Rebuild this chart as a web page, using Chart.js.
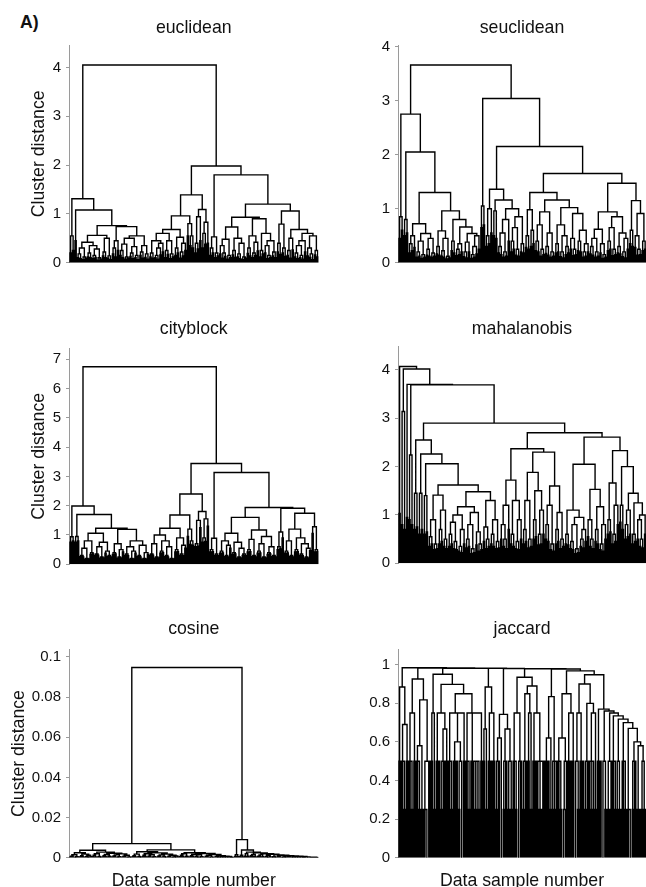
<!DOCTYPE html>
<html>
<head>
<meta charset="utf-8">
<script src="https://cdn.jsdelivr.net/npm/chart.js@4.4.1/dist/chart.umd.min.js"></script>
<style>
  html, body { margin: 0; padding: 0; background: #fff; overflow: hidden; width: 646px; height: 887px; }
  canvas { position: absolute; }
  #panelLabel { position: absolute; left: 20px; top: 14px; font: bold 17.7px "Liberation Sans", Arial, sans-serif; line-height: 1; color: #111; }
</style>
</head>
<body>
<div id="panelLabel">A)</div>
<canvas id="c0" width="330" height="283" style="left:0px;top:0px;width:330px;height:283px"></canvas>
<canvas id="c1" width="316" height="283" style="left:330px;top:0px;width:316px;height:283px"></canvas>
<canvas id="c2" width="330" height="283" style="left:0px;top:300px;width:330px;height:283px"></canvas>
<canvas id="c3" width="316" height="283" style="left:330px;top:300px;width:316px;height:283px"></canvas>
<canvas id="c4" width="330" height="292" style="left:0px;top:600px;width:330px;height:292px"></canvas>
<canvas id="c5" width="316" height="292" style="left:330px;top:600px;width:316px;height:292px"></canvas>
<script>
// ---- Data ----
// *Gaps: merge height between neighbouring sample pairs (ordered as in the dendrogram).
// *Pairs: merge height of the two samples inside each pair.
const euclideanGaps = [
  0.55,1.31,1.08,0.18,0.30,0.12,0.42,0.20,0.35,0.15,
  0.28,0.10,0.56,0.22,0.50,0.14,0.76,0.30,0.45,0.74,
  0.25,0.38,0.12,0.50,0.20,0.33,0.15,0.55,0.22,0.35,
  0.18,4.05,0.20,0.45,0.15,0.30,0.40,0.60,0.25,0.45,
  0.18,0.68,0.30,0.52,0.22,0.40,0.96,0.80,0.55,1.39,
  0.40,0.94,1.09,0.60,0.83,1.98,0.30,0.53,0.20,1.80,
  0.35,0.20,0.48,0.15,0.73,0.25,0.50,0.18,0.40,0.12,
  0.93,0.30,0.55,0.20,0.42,0.90,0.25,0.60,0.35,0.15,
  0.45,0.22,1.20,0.40,0.79,0.30,1.06,0.25,0.50,0.68,
  0.20,0.35,0.15,0.45,0.60,0.30,0.18,0.55,0.25
];
const euclideanPairs = [
  0.20,0.25,0.45,0.10,0.08,0.06,0.09,0.12,0.10,0.08,
  0.11,0.05,0.07,0.14,0.10,0.09,0.06,0.18,0.12,0.25,
  0.15,0.10,0.07,0.09,0.13,0.08,0.10,0.06,0.15,0.09,
  0.11,0.07,0.12,0.09,0.10,0.07,0.16,0.22,0.10,0.17,
  0.08,0.12,0.15,0.20,0.09,0.14,0.25,0.55,0.35,0.30,
  0.20,0.28,0.45,0.30,0.38,0.40,0.15,0.20,0.10,0.14,
  0.18,0.09,0.13,0.07,0.10,0.16,0.11,0.12,0.08,0.06,
  0.09,0.19,0.14,0.10,0.15,0.24,0.12,0.18,0.20,0.08,
  0.11,0.14,0.10,0.22,0.17,0.20,0.13,0.15,0.09,0.26,
  0.12,0.08,0.10,0.07,0.22,0.14,0.11,0.06,0.16,0.12
];
const seuclideanGaps = [
  0.85,2.75,0.80,2.05,0.35,0.50,0.72,0.20,0.40,0.15,
  0.54,0.25,0.45,0.18,1.30,0.30,0.59,0.22,0.45,0.12,
  0.96,0.40,0.80,0.25,0.35,0.66,0.20,0.38,0.54,0.15,
  0.30,0.50,3.66,1.05,3.04,0.50,1.00,1.36,0.96,1.16,
  0.30,0.55,0.20,0.80,1.00,0.40,0.65,0.25,0.85,0.35,
  2.15,0.50,0.98,0.60,1.30,0.40,0.70,0.25,0.94,0.30,
  0.55,0.20,1.16,0.35,0.70,0.20,0.50,0.30,1.02,0.45,
  0.25,0.91,0.40,0.60,0.20,0.35,1.65,0.30,0.45,0.20,
  0.62,0.35,0.15,0.94,0.40,0.65,0.25,0.85,0.30,0.55,
  0.20,0.45,1.47,0.60,1.15,0.50,0.25,0.91,0.40
];
const seuclideanPairs = [
  0.45,0.60,0.50,0.55,0.18,0.22,0.28,0.10,0.12,0.08,
  0.10,0.14,0.12,0.10,0.12,0.16,0.14,0.12,0.10,0.07,
  0.09,0.22,0.18,0.13,0.15,0.20,0.11,0.09,0.20,0.08,
  0.10,0.16,0.25,0.65,0.70,0.30,0.35,0.55,0.50,0.45,
  0.18,0.15,0.10,0.12,0.40,0.20,0.25,0.14,0.12,0.20,
  0.18,0.28,0.25,0.30,0.35,0.22,0.20,0.12,0.15,0.17,
  0.14,0.10,0.12,0.18,0.20,0.11,0.09,0.15,0.18,0.25,
  0.13,0.15,0.22,0.20,0.10,0.12,0.20,0.16,0.14,0.10,
  0.12,0.18,0.08,0.10,0.22,0.25,0.13,0.15,0.18,0.16,
  0.11,0.09,0.25,0.35,0.30,0.28,0.14,0.15,0.22,0.25
];
const cityblockGaps = [
  0.94,1.99,0.95,1.70,0.30,0.55,0.20,0.80,0.40,1.06,
  0.35,0.60,0.25,0.75,0.45,0.30,1.23,0.40,0.70,0.25,
  0.50,1.19,0.35,0.60,0.20,0.45,0.80,0.30,0.65,0.20,
  0.40,6.74,0.35,0.70,0.25,1.00,0.45,0.80,0.30,0.60,
  0.20,1.23,0.50,0.90,0.35,0.65,1.68,1.20,0.80,2.40,
  0.70,1.50,1.80,0.90,1.55,3.44,0.50,0.89,0.35,3.13,
  0.45,0.80,0.30,0.65,1.06,0.40,0.75,0.25,0.55,0.35,
  1.60,0.50,0.85,0.30,1.17,0.45,0.70,0.25,0.95,0.40,
  0.60,0.30,1.94,0.60,1.10,1.91,0.45,0.80,0.30,1.20,
  0.50,0.90,0.35,0.70,0.25,0.55,1.74,1.28,0.50
];
const cityblockPairs = [
  0.75,0.80,0.75,0.80,0.26,0.25,0.17,0.18,0.34,0.35,
  0.30,0.31,0.21,0.22,0.38,0.26,0.25,0.34,0.35,0.21,
  0.22,0.42,0.30,0.29,0.17,0.18,0.38,0.26,0.25,0.17,
  0.18,0.34,0.30,0.31,0.21,0.22,0.38,0.40,0.26,0.25,
  0.17,0.18,0.42,0.43,0.30,0.29,0.55,0.95,0.68,0.65,
  0.60,0.62,1.25,0.75,0.78,1.30,0.42,0.43,0.30,0.29,
  0.38,0.39,0.26,0.25,0.55,0.34,0.35,0.21,0.22,0.30,
  0.29,0.42,0.43,0.26,0.25,0.38,0.39,0.21,0.22,0.34,
  0.35,0.26,0.25,0.50,0.52,0.90,0.38,0.39,0.26,0.25,
  0.42,0.43,0.30,0.29,0.21,0.22,0.46,1.05,0.42,0.44
];
const mahalanobisGaps = [
  4.07,3.14,4.02,3.70,2.24,3.69,1.45,2.55,1.45,2.26,
  1.40,2.06,0.55,0.90,0.40,1.41,0.70,1.10,0.50,1.62,
  0.60,0.85,0.45,1.00,0.35,0.70,1.17,0.50,0.80,0.30,
  1.05,0.65,0.40,1.48,0.75,0.50,1.30,0.60,0.90,0.45,
  2.90,0.80,0.50,1.20,1.72,0.60,1.30,0.45,0.90,2.37,
  0.70,1.30,0.50,1.88,0.90,1.50,0.60,1.10,2.30,0.80,
  1.20,0.40,1.60,0.70,1.05,0.50,2.70,0.60,1.10,0.45,
  0.80,0.30,0.95,0.50,0.70,2.05,0.90,0.50,1.53,0.70,
  1.17,0.40,0.80,2.61,0.90,1.66,0.60,1.20,2.33,1.20,
  2.00,0.80,1.10,1.45,0.60,1.25,0.90,0.50,1.00
];
const mahalanobisPairs = [
  1.03,0.80,0.70,0.95,0.90,0.80,0.70,0.75,0.60,0.70,
  0.60,0.65,0.35,0.40,0.28,0.30,0.40,0.45,0.35,0.30,
  0.35,0.40,0.30,0.28,0.25,0.22,0.40,0.32,0.35,0.20,
  0.22,0.38,0.25,0.28,0.45,0.30,0.35,0.40,0.35,0.30,
  0.32,0.50,0.35,0.30,0.70,0.40,0.35,0.30,0.28,0.50,
  0.40,0.45,0.32,0.35,0.50,0.55,0.38,0.40,0.60,0.50,
  0.45,0.28,0.25,0.40,0.45,0.30,0.35,0.40,0.38,0.30,
  0.28,0.20,0.22,0.35,0.32,0.45,0.55,0.35,0.30,0.45,
  0.40,0.28,0.25,0.50,0.60,0.65,0.40,0.45,0.80,0.85,
  0.70,0.50,0.55,0.60,0.40,0.45,0.50,0.35,0.32,0.60
];
const cosineGaps = [
  0.0008,0.0015,0.0005,0.0025,0.0010,0.0018,0.0006,0.0012,0.0037,0.0012,
  0.0020,0.0006,0.0028,0.0010,0.0016,0.0007,0.0022,0.0009,0.0014,0.0005,
  0.0019,0.0008,0.0012,0.0004,0.0070,0.0010,0.0018,0.0006,0.0030,0.0012,
  0.0020,0.0008,0.0015,0.0005,0.0024,0.0009,0.0014,0.0006,0.0018,0.0007,
  0.0012,0.0004,0.0009,0.0039,0.0012,0.0020,0.0008,0.0025,0.0010,0.0016,
  0.0006,0.0014,0.0005,0.0021,0.0008,0.0012,0.0004,0.0016,0.0006,0.0010,
  0.0003,0.0008,0.0004,0.0006,0.0002,0.0947,0.0015,0.0090,0.0012,0.0038,
  0.0020,0.0028,0.0010,0.0016,0.0024,0.0008,0.0014,0.0020,0.0006,0.0012,
  0.0017,0.0005,0.0014,0.0009,0.0012,0.0004,0.0010,0.0007,0.0009,0.0003,
  0.0007,0.0005,0.0006,0.0002,0.0004,0.0003,0.0002,0.0002,0.0001
];
const cosinePairs = [
  0.0004,0.0003,0.0002,0.0003,0.0005,0.0004,0.0003,0.0002,0.0006,0.0005,
  0.0004,0.0003,0.0002,0.0004,0.0005,0.0003,0.0004,0.0004,0.0003,0.0002,
  0.0003,0.0004,0.0003,0.0002,0.0002,0.0005,0.0004,0.0003,0.0002,0.0005,
  0.0006,0.0003,0.0004,0.0002,0.0003,0.0004,0.0003,0.0003,0.0002,0.0003,
  0.0003,0.0002,0.0001,0.0004,0.0005,0.0006,0.0003,0.0004,0.0004,0.0005,
  0.0003,0.0002,0.0002,0.0003,0.0003,0.0004,0.0002,0.0001,0.0003,0.0002,
  0.0001,0.0001,0.0002,0.0001,0.0001,0.0001,0.0006,0.0005,0.0005,0.0004,
  0.0008,0.0007,0.0004,0.0005,0.0006,0.0003,0.0004,0.0005,0.0003,0.0002,
  0.0005,0.0002,0.0002,0.0004,0.0003,0.0002,0.0001,0.0003,0.0003,0.0001,
  0.0001,0.0002,0.0002,0.0001,0.0001,0.0001,0.0001,0.0001,0.00005,0.00005
];
const jaccardGaps = [
  0.885,0.5,0.69,0.984,0.5,0.75,0.926,0.5,0.58,0.818,
  0.25,0.5,0.983,0.75,0.951,0.5,0.75,0.5,0.667,0.898,
  0.5,0.75,0.5,0.6,0.5,0.75,0.85,0.5,0.75,0.5,
  0.25,0.5,0.75,0.982,0.667,0.885,0.5,0.75,0.981,0.5,
  0.62,0.743,0.5,0.667,0.5,0.980,0.5,0.75,0.5,0.935,
  0.5,0.85,0.75,0.89,0.5,0.75,0.25,0.5,0.979,0.5,
  0.62,0.835,0.25,0.978,0.5,0.62,0.25,0.85,0.5,0.75,
  0.968,0.5,0.75,0.5,0.9,0.5,0.8,0.25,0.75,0.948,
  0.5,0.77,0.5,0.76,0.25,0.75,0.5,0.735,0.25,0.718,
  0.5,0.7,0.25,0.67,0.5,0.6,0.25,0.58,0.25
];
const jaccardPairs = [
  0.5,0.5,0.25,0.5,0.5,0.25,0.5,0.5,0.25,0.25,
  0.25,0,0.5,0.5,0.25,0.5,0.5,0.25,0.5,0.5,
  0.5,0.25,0.5,0.5,0.25,0,0.5,0.5,0.25,0.5,
  0.5,0.5,0.25,0.5,0.5,0.25,0.5,0.5,0.5,0.25,
  0.5,0,0.25,0.5,0.25,0.25,0.5,0.25,0,0.5,
  0.25,0.5,0.5,0.25,0.5,0.5,0.5,0.25,0.5,0.5,
  0.5,0.25,0.5,0.5,0.5,0.25,0,0.5,0.5,0.5,
  0.5,0,0.25,0.5,0.5,0.25,0.5,0.5,0.5,0.25,
  0.5,0.5,0,0.25,0.25,0.5,0.5,0.25,0.5,0.25,
  0.5,0.25,0.25,0,0.25,0.5,0.25,0.25,0.5,0.25
];

// ---- Tick labels ----
const euclideanTicks = [0, 1, 2, 3, 4];
const seuclideanTicks = [0, 1, 2, 3, 4];
const cityblockTicks = [0, 1, 2, 3, 4, 5, 6, 7];
const mahalanobisTicks = [0, 1, 2, 3, 4];
const cosineTicks = [0, 0.02, 0.04, 0.06, 0.08, 0.1];
const jaccardTicks = [0, 0.2, 0.4, 0.6, 0.8, 1];

const panelTitles = ['euclidean', 'seuclidean', 'cityblock', 'mahalanobis', 'cosine', 'jaccard'];
const yAxisTitle = 'Cluster distance';
const xAxisTitle = 'Data sample number';

// ---- Layout (page pixels) ----
const FONT = "'Liberation Sans', Arial, Helvetica, sans-serif";
const FS = 17.7, LH = FS * 1.2, MID = 0.3465 * FS;
const panels = [
  { gaps: euclideanGaps, pairs: euclideanPairs, ticks: euclideanTicks, ymax: 4.46, cv: [0, 0, 330, 283], area: [69, 45, 318.5, 262.7], tb: 34, yTitleX: 38.7, xTitle: false },
  { gaps: seuclideanGaps, pairs: seuclideanPairs, ticks: seuclideanTicks, ymax: 4.03, cv: [330, 0, 316, 283], area: [398, 45, 646, 262.7], tb: 34, yTitleX: null, xTitle: false },
  { gaps: cityblockGaps, pairs: cityblockPairs, ticks: cityblockTicks, ymax: 7.37, cv: [0, 300, 330, 283], area: [69, 348.3, 318.5, 564.3], tb: 335, yTitleX: 38.7, xTitle: false },
  { gaps: mahalanobisGaps, pairs: mahalanobisPairs, ticks: mahalanobisTicks, ymax: 4.48, cv: [330, 300, 316, 283], area: [398, 346.7, 646, 563.3], tb: 335, yTitleX: null, xTitle: false },
  { gaps: cosineGaps, pairs: cosinePairs, ticks: cosineTicks, ymax: 0.1038, cv: [0, 600, 330, 292], area: [69, 649.3, 318.5, 865.7], tb: 635, yTitleX: 18.7, xTitle: true },
  { gaps: jaccardGaps, pairs: jaccardPairs, ticks: jaccardTicks, ymax: 1.08, cv: [330, 600, 316, 292], area: [398, 649.3, 646, 865.7], tb: 635, yTitleX: null, xTitle: true }
];

// Merge the pair heights and neighbour heights into one ordered list of leaf-to-leaf merge heights
function leafMerges(gaps, pairs) {
  const out = [];
  for (let i = 0; i < pairs.length; i++) {
    out.push(pairs[i]);
    if (i < gaps.length) out.push(gaps[i]);
  }
  return out;
}

// Build dendrogram U-shapes from ordered neighbour merge heights
function buildDendrogram(merges) {
  const pts = [];
  function node(lo, hi) {
    if (lo === hi) return { x: lo, h: 0 };
    let k = lo;
    for (let i = lo + 1; i < hi; i++) if (merges[i] > merges[k]) k = i;
    const L = node(lo, k), R = node(k + 1, hi), h = merges[k];
    pts.push({ x: L.x, y: L.h }, { x: L.x, y: h }, { x: R.x, y: h }, { x: R.x, y: R.h }, { x: L.x, y: null });
    return { x: (L.x + R.x) / 2, h: h };
  }
  node(0, merges.length);
  return pts;
}

panels.forEach((p, i) => {
  const [cl, ct, cw, ch] = p.cv;
  const [al, at, ar, ab] = p.area;
  const merges = leafMerges(p.gaps, p.pairs);
  const nLeaves = merges.length + 1;
  const xMin = -0.8, xMax = nLeaves - 0.8;
  const titleY = p.tb - MID - ct;
  const tTop = titleY - LH / 2;
  const tBot = (at - ct) - tTop - LH;
  const padRight = cw - (ar - cl);
  const yWidth = al - cl;
  let padBottom, xScale;
  if (p.xTitle) {
    padBottom = 0;
    const pt = ch - LH - (ab - ct);
    xScale = {
      type: 'linear', min: xMin, max: xMax,
      ticks: { display: false }, grid: { display: false }, border: { display: false },
      title: { display: true, text: xAxisTitle, color: '#111', font: { family: FONT, size: FS }, padding: { top: pt, bottom: 0 } }
    };
  } else {
    padBottom = ch - (ab - ct);
    xScale = { type: 'linear', display: false, min: xMin, max: xMax };
  }
  const tickValues = p.ticks;
  new Chart(document.getElementById('c' + i), {
    type: 'scatter',
    data: {
      datasets: [{
        data: buildDendrogram(merges),
        showLine: true, spanGaps: false, tension: 0,
        borderColor: '#000', borderWidth: 1.4, borderJoinStyle: 'miter', borderCapStyle: 'butt',
        pointRadius: 0, pointHoverRadius: 0, fill: false
      }]
    },
    options: {
      responsive: false, animation: false, devicePixelRatio: 1, events: [],
      layout: { padding: { left: 0, right: padRight, top: 0, bottom: padBottom } },
      plugins: {
        legend: { display: false }, tooltip: { enabled: false },
        title: {
          display: true, text: panelTitles[i], fullSize: false, color: '#111',
          font: { family: FONT, size: FS, weight: 'normal' },
          padding: { top: tTop, bottom: tBot }
        }
      },
      scales: {
        x: xScale,
        y: {
          type: 'linear', min: 0, max: p.ymax,
          afterBuildTicks: s => { s.ticks = tickValues.map(v => ({ value: v })); },
          afterFit: s => { s.width = yWidth; },
          ticks: { color: '#111', font: { family: FONT, size: 15 }, padding: 5, autoSkip: false, callback: v => String(v) },
          grid: { display: true, drawOnChartArea: false, drawTicks: true, tickLength: 3, color: '#9a9a9a', lineWidth: 1 },
          border: { display: true, color: '#9a9a9a', width: 1 },
          title: { display: p.yTitleX !== null, text: yAxisTitle, color: '#111', font: { family: FONT, size: FS }, padding: { top: (p.yTitleX || 0) - LH / 2, bottom: 0 } }
        }
      }
    }
  });
});
</script>
</body>
</html>
